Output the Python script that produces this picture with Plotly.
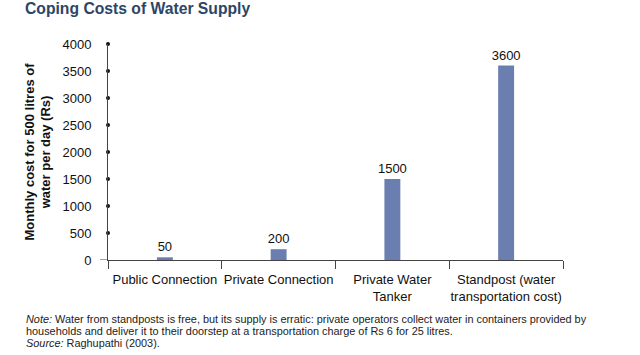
import plotly.graph_objects as go

categories = ["Public Connection", "Private Connection", "Private Water<br>Tanker",
              "Standpost (water<br>transportation cost)"]
values = [50, 200, 1500, 3600]
y_ticks = [0, 500, 1000, 1500, 2000, 2500, 3000, 3500, 4000]
note_lines = [
    "<i>Note:</i> Water from standposts is free, but its supply is erratic: private operators collect water in containers provided by",
    "households and deliver it to their doorstep at a transportation charge of Rs 6 for 25 litres.",
    "<i>Source:</i> Raghupathi (2003).",
]

FONT = "Liberation Sans, Arial, Helvetica, sans-serif"
PLOT_TOP, PLOT_BOTTOM, PLOT_LEFT, PLOT_RIGHT = 44, 260, 108, 563
PH = PLOT_BOTTOM - PLOT_TOP
PW = PLOT_RIGHT - PLOT_LEFT

fig = go.Figure()
fig.add_trace(go.Bar(
    x=categories, y=values, width=0.14,
    marker=dict(color="#6a7fb0", line=dict(width=0)),
    text=[str(v) for v in values], textposition="outside", constraintext="none",
    textfont=dict(size=13, color="#111111", family=FONT),
    cliponaxis=False,
))
# tick dots on the y axis line
fig.add_trace(go.Scatter(
    x=[0] * (len(y_ticks) - 1), y=y_ticks[1:], xaxis="x2", yaxis="y",
    mode="markers", marker=dict(size=4, color="#111111"),
    hoverinfo="skip", cliponaxis=False,
))

fig.update_layout(
    width=640, height=355,
    margin=dict(l=PLOT_LEFT, r=640 - PLOT_RIGHT, t=PLOT_TOP, b=355 - PLOT_BOTTOM),
    paper_bgcolor="white", plot_bgcolor="white",
    showlegend=False,
    font=dict(family=FONT, size=13, color="#111111"),
    title=dict(text="<b>Coping Costs of Water Supply</b>", x=25/640, xanchor="left",
               y=1 - 9/355, yanchor="middle",
               font=dict(size=15.7, color="#2e4566", family=FONT)),
    xaxis=dict(type="category", range=[-0.5, 3.5], tickson="boundaries",
               ticks="outside", ticklen=8, tickwidth=1, tickcolor="#444444",
               showline=True, linecolor="#444444", linewidth=1,
               showgrid=False, zeroline=False, automargin=False,
               ticklabelstandoff=7, tickangle=0,
               tickfont=dict(size=13, color="#111111")),
    xaxis2=dict(overlaying="x", range=[0, 1], visible=False),
    yaxis=dict(range=[0, 4000], tickvals=y_ticks,
               ticks="", showline=True, linecolor="#444444", linewidth=1,
               showgrid=False, zeroline=False, ticklabelstandoff=13, automargin=False,
               tickfont=dict(size=13, color="#111111"),
               title=dict(text="<b>Monthly cost for 500 litres of<br>water per day (Rs)</b>",
                          font=dict(size=13, color="#111111"), standoff=8)),
)

# x axis extension to the left of the y axis
fig.add_shape(type="line", xref="paper", yref="y", x0=-8/PW, x1=0, y0=0, y1=0,
              line=dict(color="#444444", width=1))

for i, line in enumerate(note_lines):
    ypx = 319 + 12 * i
    fig.add_annotation(text=line, xref="paper", yref="paper", x=(24 - PLOT_LEFT) / PW,
                       xanchor="left", y=(PLOT_BOTTOM - ypx) / PH, yanchor="middle",
                       align="left", showarrow=False,
                       font=dict(size=10.9, color="#222222", family=FONT))

fig.write_html("out.html", post_script="document.body.style.margin='0';",
               config={"displayModeBar": False})
